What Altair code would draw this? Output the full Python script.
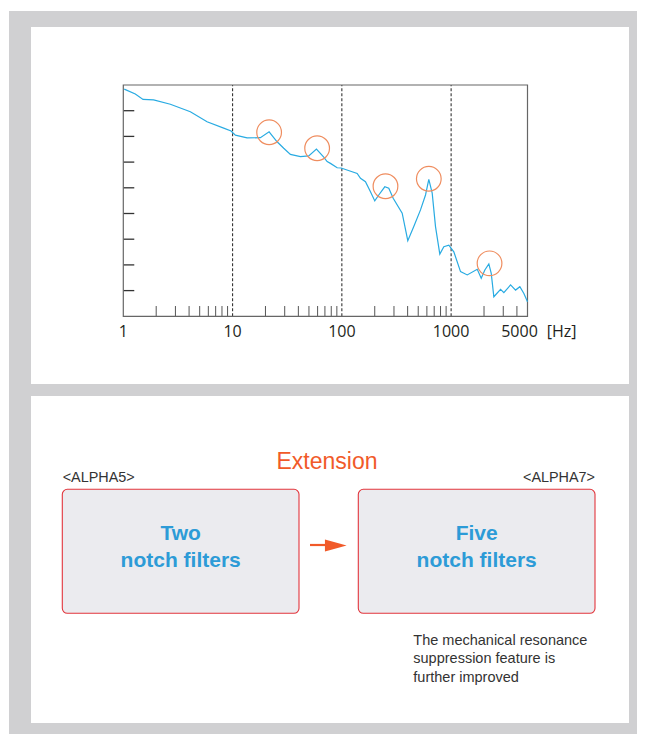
import altair as alt
import pandas as pd

# ---- data ----
freq = [1.02, 1.288, 1.515, 1.894, 2.694, 4.108, 5.842, 8.29, 9.69, 10.61, 13.58, 17.97,
        21.59, 25.56, 29.38, 33.82, 41.78, 49.77, 58.54, 68.29, 73.35, 78.64, 90.6, 98.5,
        138.1, 148.1, 164.5, 182.8, 200.1, 217.7, 247.1, 268.9, 295.0, 356.6, 401.3, 455.4,
        524.6, 583.0, 624.9, 671.2, 719.6, 788.0, 857.6, 952.6, 1058.6, 1219.4, 1404.4,
        1733.8, 1886.0, 2035.0, 2214.0, 2329.0, 2460.0, 2834.0, 3038.0, 3499.0, 3889.0,
        4257.0, 4633.0, 5000.0]
level = [8.84, 8.65, 8.44, 8.42, 8.25, 7.96, 7.57, 7.32, 7.21, 7.05, 6.94, 6.95,
         7.18, 6.79, 6.54, 6.30, 6.21, 6.24, 6.51, 6.19, 6.02, 5.95, 5.78, 5.77,
         5.56, 5.37, 5.24, 4.85, 4.49, 4.72, 5.04, 4.98, 4.59, 4.01, 2.94, 3.49,
         4.14, 4.72, 5.33, 4.79, 3.49, 2.42, 2.71, 2.77, 2.51, 1.74, 1.61,
         1.83, 1.48, 1.80, 2.04, 1.67, 0.76, 1.05, 0.92, 1.22, 1.02,
         1.15, 0.89, 0.57]

peak_freq = [21.6, 59.4, 250.8, 625.0, 2247.0]
peak_level = [7.16, 6.54, 5.06, 5.35, 2.06]

decades = [10, 100, 1000]
minor_ticks = [2, 3, 4, 5, 6, 7, 8, 9, 20, 30, 40, 50, 60, 70, 80, 90,
               200, 300, 400, 500, 600, 700, 800, 900, 2000, 3000, 4000]
y_ticks = [1, 2, 3, 4, 5, 6, 7, 8]
x_labels = [1, 10, 100, 1000]
x_label_text = ["1", "10", "100", "1000"]
last_label = [5000]
last_label_text = ["5000"]
unit_text = "[Hz]"
f_range = [1, 5000]
v_range = [0, 9]

title_text = "Extension"
left_tag = "<ALPHA5>"
right_tag = "<ALPHA7>"
left_box_text = "Two\nnotch filters"
right_box_text = "Five\nnotch filters"
note_text = "The mechanical resonance\nsuppression feature is\nfurther improved"

# ---- styles ----
LINE = "#29abe2"
RING = "#ef8d5f"
ORANGE = "#f15a29"
BLUE = "#2d9bd7"
RED = "#e2353c"
BOXFILL = "#ebebef"
GREY = "#d0d0d2"
FONT = "Liberation Sans"
AXFONT = "Open Sans"

xs = alt.Scale(type="log", domain=f_range, range=[115.3, 519.5], nice=False)
ys = alt.Scale(domain=v_range, range=[308.3, 77.0], nice=False, zero=False)

one = pd.DataFrame({"k": [0]})

bg = alt.Chart(one).mark_rect(color=GREY).encode(
    x=alt.value(1), x2=alt.value(629), y=alt.value(3), y2=alt.value(726))
panel_top = alt.Chart(one).mark_rect(color="white").encode(
    x=alt.value(23), x2=alt.value(621), y=alt.value(19), y2=alt.value(376))
panel_bot = alt.Chart(one).mark_rect(color="white").encode(
    x=alt.value(23), x2=alt.value(621), y=alt.value(388), y2=alt.value(715))

line_df = pd.DataFrame({"f": freq, "v": level})
peak_df = pd.DataFrame({"f": peak_freq, "v": peak_level})

X = alt.X("f:Q", scale=xs, axis=None)
Y = alt.Y("v:Q", scale=ys, axis=None)

dash_df = pd.DataFrame({"f": decades, "v": [v_range[0]] * 3, "v2": [v_range[1]] * 3})
dashed = alt.Chart(dash_df).mark_rule(
    color="#333333", strokeWidth=1.1, strokeDash=[3, 2]).encode(
    x=X, y=Y, y2="v2:Q")

minor_df = pd.DataFrame({"f": minor_ticks, "v": [0] * len(minor_ticks), "v2": [0.4] * len(minor_ticks)})
minor = alt.Chart(minor_df).mark_rule(color="#555555", strokeWidth=1).encode(
    x=X, y=Y, y2="v2:Q")

yt_df = pd.DataFrame({"v": y_ticks, "f": [1] * len(y_ticks), "f2": [1.26] * len(y_ticks)})
yt = alt.Chart(yt_df).mark_rule(color="#333333", strokeWidth=1.3).encode(
    y=Y, x=X, x2="f2:Q")

frame_df = pd.DataFrame({"f": [f_range[0]], "f2": [f_range[1]], "v": [v_range[0]], "v2": [v_range[1]]})
frame = alt.Chart(frame_df).mark_rect(fillOpacity=0, stroke="#666666", strokeWidth=1.2).encode(
    x=X, x2="f2:Q", y=Y, y2="v2:Q")

curve = alt.Chart(line_df).mark_line(color=LINE, strokeWidth=1.2).encode(x=X, y=Y)

rings = alt.Chart(peak_df).mark_point(
    shape="circle", size=610, filled=False, stroke=RING, strokeWidth=1.2, opacity=1).encode(x=X, y=Y)

xl = alt.Chart(pd.DataFrame({"f": x_labels, "t": x_label_text})).mark_text(
    font=AXFONT, fontSize=16, color="#231f20", baseline="alphabetic", align="center").encode(
    x=X, y=alt.value(328.7), text="t:N")
xl2 = alt.Chart(pd.DataFrame({"f": last_label, "t": last_label_text})).mark_text(
    font=AXFONT, fontSize=16, color="#231f20", baseline="alphabetic", align="center", dx=-8).encode(
    x=X, y=alt.value(328.7), text="t:N")
unit = alt.Chart(one).mark_text(
    font=AXFONT, fontSize=16, color="#231f20", baseline="alphabetic", align="left").encode(
    x=alt.value(538.7), y=alt.value(328.7), text=alt.value(unit_text))

# ---- bottom diagram ----
title = alt.Chart(one).mark_text(
    font=FONT, fontSize=23, color=ORANGE, align="center", baseline="alphabetic").encode(
    x=alt.value(319), y=alt.value(461.3), text=alt.value(title_text))
tag_l = alt.Chart(one).mark_text(
    font=FONT, fontSize=14.4, color="#333333", align="left", baseline="alphabetic").encode(
    x=alt.value(54.7), y=alt.value(473.7), text=alt.value(left_tag))
tag_r = alt.Chart(one).mark_text(
    font=FONT, fontSize=14.4, color="#333333", align="right", baseline="alphabetic").encode(
    x=alt.value(587), y=alt.value(473.7), text=alt.value(right_tag))
box_l = alt.Chart(one).mark_rect(
    fill=BOXFILL, stroke=RED, strokeWidth=1.1, cornerRadius=5).encode(
    x=alt.value(54.3), x2=alt.value(291), y=alt.value(481.3), y2=alt.value(605.3))
box_r = alt.Chart(one).mark_rect(
    fill=BOXFILL, stroke=RED, strokeWidth=1.1, cornerRadius=5).encode(
    x=alt.value(350.3), x2=alt.value(587), y=alt.value(481.3), y2=alt.value(605.3))
txt_l = alt.Chart(one).mark_text(
    font=FONT, fontSize=21, fontWeight="bold", color=BLUE, align="center",
    baseline="alphabetic", lineHeight=26.7, lineBreak="\n").encode(
    x=alt.value(172.7), y=alt.value(532), text=alt.value(left_box_text))
txt_r = alt.Chart(one).mark_text(
    font=FONT, fontSize=21, fontWeight="bold", color=BLUE, align="center",
    baseline="alphabetic", lineHeight=26.7, lineBreak="\n").encode(
    x=alt.value(468.7), y=alt.value(532), text=alt.value(right_box_text))
shaft = alt.Chart(one).mark_rule(color=ORANGE, strokeWidth=2.2).encode(
    x=alt.value(302), x2=alt.value(319), y=alt.value(537))
head = alt.Chart(one).mark_point(
    shape="M-1,-0.55L1,0L-1,0.55Z", size=470, filled=True, color=ORANGE, opacity=1).encode(
    x=alt.value(327.8), y=alt.value(537.5))
note = alt.Chart(one).mark_text(
    font=FONT, fontSize=14.5, color="#333333", align="left", baseline="alphabetic",
    lineHeight=18.4, lineBreak="\n").encode(
    x=alt.value(405.3), y=alt.value(637), text=alt.value(note_text))

chart = alt.layer(
    bg, panel_top, panel_bot, dashed, minor, yt, frame, curve, rings, xl, xl2, unit,
    title, tag_l, tag_r, box_l, box_r, txt_l, txt_r, shaft, head, note
).properties(
    width=629, height=726,
    autosize=alt.AutoSizeParams(type="none"), padding=0, background="white"
).configure_view(strokeWidth=0)

chart.save("out.html", embed_options={"renderer": "svg", "actions": False})
